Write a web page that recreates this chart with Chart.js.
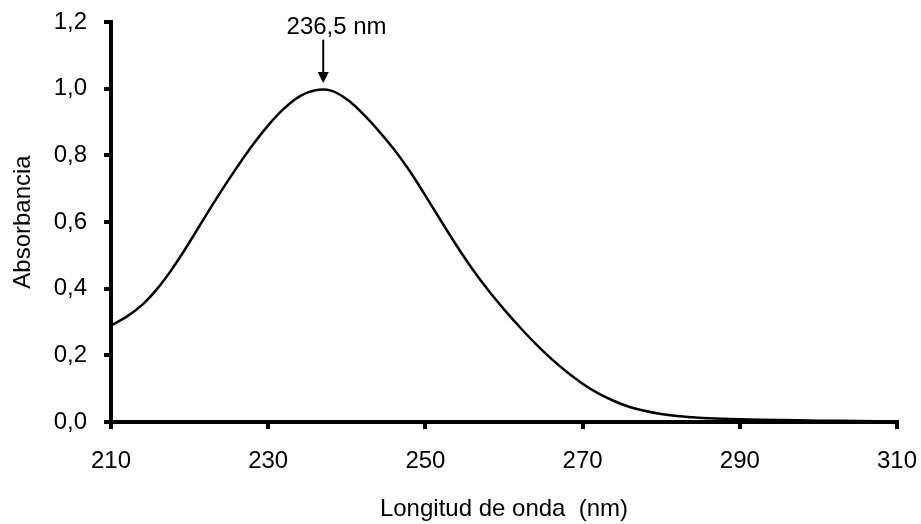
<!DOCTYPE html>
<html>
<head>
<meta charset="utf-8">
<script src="https://cdn.jsdelivr.net/npm/chart.js@4/dist/chart.umd.min.js"></script>
<style>
  body { margin: 0; background: #fff; }
  #caixa { width: 921px; height: 524px; }
</style>
</head>
<body>
<div id="caixa"><canvas id="grafico-espectro"></canvas></div>
<script>
// longitudes de onda (nm)
var longitudes = [210, 212, 214, 216, 218, 220, 222, 224, 226, 228, 230, 232, 234, 236, 238, 240, 242, 244, 246, 248, 250, 252, 254, 256, 258, 260, 262, 264, 266, 268, 270, 272, 274, 276, 278, 280, 282, 284, 286, 290, 295, 300, 305, 310];
// absorbancia em cada longitude
var absorbancias = [0.29, 0.316, 0.352, 0.403, 0.467, 0.54, 0.617, 0.692, 0.763, 0.83, 0.89, 0.94, 0.977, 0.995, 0.994, 0.968, 0.926, 0.875, 0.818, 0.753, 0.679, 0.603, 0.528, 0.458, 0.395, 0.338, 0.285, 0.235, 0.19, 0.15, 0.115, 0.086, 0.063, 0.045, 0.033, 0.024, 0.018, 0.014, 0.011, 0.008, 0.006, 0.004, 0.003, 0.002];
var ticksX = [210, 230, 250, 270, 290, 310];
var ticksY = [0, 0.2, 0.4, 0.6, 0.8, 1.0, 1.2];
var picoTexto = '236,5 nm';
var picoLongitude = 237;

var fonte = 'Liberation Sans, Arial, sans-serif';

let pontos = [];
for (var i = 0; i < longitudes.length; i++) {
  pontos.push({ x: longitudes[i], y: absorbancias[i] });
}

// seta + texto do máximo
const marcaPico = {
  id: 'marcaPico',
  afterDatasetsDraw(chart) {
    const ctx = chart.ctx;
    const sx = chart.scales.x;
    const sy = chart.scales.y;
    const x = sx.getPixelForValue(picoLongitude);
    const yTopo = sy.getPixelForValue(1.147);
    const yPonta = sy.getPixelForValue(1.017);
    ctx.save();
    ctx.strokeStyle = '#000';
    ctx.fillStyle = '#000';
    ctx.lineWidth = 2;
    ctx.beginPath();
    ctx.moveTo(x, yTopo);
    ctx.lineTo(x, yPonta - 8);
    ctx.stroke();
    ctx.beginPath();
    ctx.moveTo(x - 5.5, yPonta - 11);
    ctx.lineTo(x + 5.5, yPonta - 11);
    ctx.lineTo(x, yPonta);
    ctx.closePath();
    ctx.fill();
    ctx.font = '24px ' + fonte;
    ctx.textAlign = 'center';
    ctx.textBaseline = 'middle';
    ctx.fillText(picoTexto, sx.getPixelForValue(238.7), sy.getPixelForValue(1.183));
    ctx.restore();
  }
};

const config1 = {
  type: 'line',
  data: {
    datasets: [{
      label: 'Absorbancia',
      data: pontos,
      borderColor: '#000',
      borderWidth: 2.5,
      pointRadius: 0,
      fill: false,
      tension: 0.4
    }]
  },
  options: {
    responsive: true,
    maintainAspectRatio: false,
    animation: false,
    layout: { padding: { left: 0, right: 24, top: 22, bottom: 0 } },
    plugins: { legend: { display: false }, tooltip: { enabled: false } },
    scales: {
      x: {
        type: 'linear',
        min: 210,
        max: 310,
        afterFit: function (s) { s.height = 102; s.paddingLeft = 0; s.paddingRight = 0; },
        afterBuildTicks: function (s) { s.ticks = ticksX.map(v => ({ value: v })); },
        border: { display: true, color: '#000', width: 4 },
        grid: { drawOnChartArea: false, drawTicks: true, tickLength: 7, color: '#000', lineWidth: 4 },
        ticks: { color: '#000', padding: 18, maxRotation: 0, font: { family: fonte, size: 24 } },
        title: { display: true, text: 'Longitud de onda  (nm)', color: '#000', padding: { top: 0, bottom: 0 }, font: { family: fonte, size: 24 } }
      },
      y: {
        min: 0,
        max: 1.2,
        afterFit: function (s) { s.width = 111; s.paddingTop = 0; s.paddingBottom = 0; },
        afterBuildTicks: function (s) { s.ticks = ticksY.map(v => ({ value: v })); },
        border: { display: true, color: '#000', width: 4 },
        grid: { drawOnChartArea: false, drawTicks: true, tickLength: 7, color: '#000', lineWidth: 4 },
        ticks: {
          color: '#000',
          padding: 17,
          font: { family: fonte, size: 24 },
          callback: function (v) { return v.toFixed(1).replace('.', ','); }
        },
        title: { display: true, text: 'Absorbancia', color: '#000', padding: { top: 9, bottom: 0 }, font: { family: fonte, size: 24 } }
      }
    }
  },
  plugins: [marcaPico]
};

let myChart = new Chart(document.getElementById('grafico-espectro'), config1);
console.log('gráfico plotado');
</script>
</body>
</html>
